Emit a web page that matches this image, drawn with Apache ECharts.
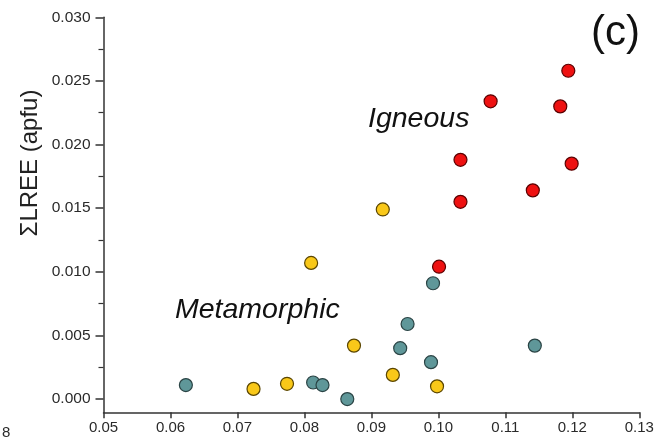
<!DOCTYPE html>
<html>
<head>
<meta charset="utf-8">
<script src="https://cdn.jsdelivr.net/npm/echarts@6/dist/echarts.min.js"></script>
<style>
html,body{margin:0;padding:0;background:#fff;}
#chart{width:658px;height:439px;}
</style>
</head>
<body>
<div id="chart"></div>
<script>
// Data: [x, y]
var igneousX = [0.1194, 0.1078, 0.1182, 0.1033, 0.1199, 0.1141, 0.1033, 0.1001];
var igneousY = [0.0258, 0.0234, 0.0230, 0.0188, 0.0185, 0.0164, 0.0155, 0.0104];

var yellowX = [0.0810, 0.0917, 0.0874, 0.0932, 0.0998, 0.0724, 0.0774];
var yellowY = [0.0107, 0.0149, 0.0042, 0.0019, 0.0010, 0.0008, 0.0012];

var tealX = [0.0992, 0.0954, 0.0943, 0.0989, 0.0623, 0.0813, 0.0827, 0.0864, 0.1144];
var tealY = [0.0091, 0.0059, 0.0040, 0.0029, 0.0011, 0.0013, 0.0011, 0.0000, 0.0042];

var xTicks = [0.05, 0.06, 0.07, 0.08, 0.09, 0.10, 0.11, 0.12, 0.13];
var yTicks = [0.000, 0.005, 0.010, 0.015, 0.020, 0.025, 0.030];
var yMinorTicks = [0.0025, 0.0075, 0.0125, 0.0175, 0.0225, 0.0275];

function pairs(xs, ys) { return xs.map(function (x, i) { return [x, ys[i]]; }); }

var chart = echarts.init(document.getElementById('chart'), null, {renderer: 'canvas'});
var font = '"Liberation Sans", Arial, sans-serif';
var axisColor = '#333333';

var option = {
  backgroundColor: '#ffffff',
  animation: false,
  grid: {left: 103.5, right: 18.7, top: 17.3, bottom: 26.7},
  xAxis: {
    type: 'value', min: 0.05, max: 0.13, interval: 0.01,
    axisLine: {show: true, onZero: false, lineStyle: {color: axisColor, width: 1.5}},
    axisTick: {show: true, length: 6, inside: false, lineStyle: {color: axisColor, width: 1.5}},
    splitLine: {show: false},
    axisLabel: {
      color: '#2a2a2a', fontSize: 15, fontFamily: font, margin: 8,
      formatter: function (v) { return v.toFixed(2); }
    }
  },
  yAxis: [{
    type: 'value', min: -0.00104, max: 0.030,
    axisLine: {show: true, onZero: false, lineStyle: {color: axisColor, width: 1.5}},
    axisTick: {show: true, length: 8, customValues: yTicks, lineStyle: {color: axisColor, width: 1.5}},
    splitLine: {show: false},
    axisLabel: {
      color: '#2a2a2a', fontSize: 15.5, fontFamily: font, margin: 13,
      customValues: yTicks,
      formatter: function (v) { return v.toFixed(3); }
    }
  }, {
    type: 'value', min: -0.00104, max: 0.030, position: 'left',
    axisLine: {show: false},
    axisTick: {show: true, length: 5, customValues: yMinorTicks, lineStyle: {color: axisColor, width: 1.2}},
    axisLabel: {show: false, customValues: yMinorTicks},
    splitLine: {show: false}
  }],
  series: [{
    name: 'Metamorphic (teal)', type: 'scatter', yAxisIndex: 0,
    data: pairs(tealX, tealY), symbol: 'circle', symbolSize: 13,
    itemStyle: {color: '#5f9799', borderColor: '#2a4344', borderWidth: 1.2, opacity: 1}
  }, {
    name: 'Metamorphic (yellow)', type: 'scatter', yAxisIndex: 0,
    data: pairs(yellowX, yellowY), symbol: 'circle', symbolSize: 13,
    itemStyle: {color: '#f9c819', borderColor: '#5a4500', borderWidth: 1.2, opacity: 1}
  }, {
    name: 'Igneous', type: 'scatter', yAxisIndex: 0,
    data: pairs(igneousX, igneousY), symbol: 'circle', symbolSize: 13,
    itemStyle: {color: '#ee1111', borderColor: '#5a0000', borderWidth: 1.2, opacity: 1}
  }],
  graphic: [
    {type: 'text', x: 368, y: 119, style: {text: 'Igneous', font: 'italic 28.5px ' + font, fill: '#111', textAlign: 'left', textVerticalAlign: 'middle'}},
    {type: 'text', x: 175, y: 310, style: {text: 'Metamorphic', font: 'italic 28.5px ' + font, fill: '#111', textAlign: 'left', textVerticalAlign: 'middle'}},
    {type: 'text', x: 591, y: 33, style: {text: '(c)', font: '42px ' + font, fill: '#111', textAlign: 'left', textVerticalAlign: 'middle'}},
    {type: 'text', x: 30, y: 163, rotation: Math.PI / 2, style: {text: 'ΣLREE (apfu)', font: '24px ' + font, fill: '#222', textAlign: 'center', textVerticalAlign: 'middle'}},
    {type: 'text', x: 2, y: 433, style: {text: '8', font: '15px ' + font, fill: '#2a2a2a', textAlign: 'left', textVerticalAlign: 'middle'}}
  ]
};
chart.setOption(option);
</script>
</body>
</html>
